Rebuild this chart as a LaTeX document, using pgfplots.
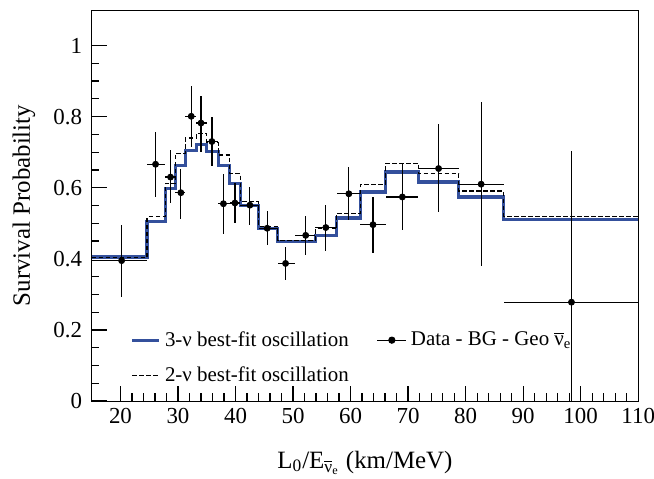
\documentclass[border=0pt]{standalone}
\usepackage{fontspec}
\setmainfont{Liberation Serif}
\usepackage{pgfplots}
\usepackage{pgfplotstable}
\pgfplotsset{compat=1.18}
\definecolor{fitblue}{RGB}{52,80,156}

% legend samples
\pgfplotsset{
  short line legend/.style={legend image code/.code={\draw[##1] (0bp,0bp) -- (13.5bp,0bp);}},
  dot line legend/.style={legend image code/.code={\draw[##1] (0bp,0bp) -- (14.5bp,0bp); \fill (7.25bp,0bp) circle (1.5bp);}},
}

% Data - BG - Geo antineutrinos: bin centre, survival probability, bin half-widths, errors
\pgfplotstableread{
x     y      exm   exp   eym    eyp
20.2  0.395  5.2   4.4   0.102  0.101
26.1  0.666  1.5   1.7   0.092  0.092
28.7  0.630  0.9   0.8   0.074  0.075
30.5  0.586  1.0   0.8   0.073  0.068
32.3  0.801  1.0   0.9   0.087  0.084
34.0  0.782  0.8   1.0   0.082  0.075
35.9  0.730  0.9   1.1   0.069  0.069
37.9  0.555  0.9   1.1   0.084  0.085
39.9  0.557  0.9   0.9   0.056  0.056
42.5  0.551  1.7   1.5   0.056  0.051
45.5  0.486  1.5   1.8   0.048  0.049
48.7  0.387  1.4   1.6   0.047  0.046
52.2  0.466  1.9   1.7   0.056  0.054
55.7  0.488  1.8   1.9   0.066  0.063
59.7  0.583  2.1   2.0   0.075  0.075
63.9  0.496  2.2   2.2   0.081  0.078
69.0  0.574  2.9   2.8   0.094  0.094
75.3  0.654  3.5   3.5   0.122  0.124
82.7  0.610  3.9   3.9   0.231  0.231
98.4  0.278  11.8  11.6  0.425  0.425
}\datatable

% 3-flavour best fit (step histogram, value holds to the next edge)
\pgfplotstableread{
x     p
15.0  0.405
24.6  0.505
27.8  0.598
29.5  0.663
31.3  0.705
33.2  0.721
35.0  0.703
37.0  0.663
39.0  0.612
40.8  0.551
44.0  0.485
47.3  0.448
50.3  0.448
53.9  0.466
57.6  0.515
61.7  0.588
66.1  0.644
71.8  0.616
78.8  0.574
86.6  0.511
110.0 0.511
}\threenu

% 2-flavour best fit
\pgfplotstableread{
x     p
15.0  0.403
24.6  0.518
27.8  0.612
29.5  0.697
31.3  0.740
33.2  0.753
35.0  0.728
37.0  0.692
39.0  0.641
40.8  0.562
44.0  0.492
47.3  0.452
50.3  0.452
53.9  0.485
57.6  0.528
61.7  0.610
66.1  0.669
71.8  0.639
78.8  0.591
86.6  0.520
110.0 0.520
}\twonu

\begin{document}
\begin{tikzpicture}
\begin{axis}[
  name=ax,
  scale only axis,
  width=273.25bp, height=195.5bp,
  xmin=15, xmax=110, ymin=0, ymax=1.1,
  xtick={20,30,40,50,60,70,80,90,100,110},
  ytick={0,0.2,0.4,0.6,0.8,1},
  minor x tick num=4, minor y tick num=3,
  tick align=inside, tick pos=left,
  major tick length=7.5bp, minor tick length=3.8bp,
  xtick style={black, line width=0.6bp},
  ytick style={black, line width=0.6bp},
  tick label style={font=\fontsize{11.5}{13}\selectfont},
  /pgf/number format/assume math mode=true,
  yticklabel style={xshift=-1.3bp},
  xlabel={L\textsubscript{0}/E\textsubscript{$\overline{\mbox{ν}}$\textsubscript{e}} (km/MeV)},
  xlabel style={font=\fontsize{12.5}{15}\selectfont, at={(axis description cs:0.5,-0.172)}, anchor=base},
  ylabel={Survival Probability},
  ylabel style={font=\fontsize{12.5}{15}\selectfont, at={(axis description cs:-0.124,0.5)}, anchor=center},
  legend columns=2,
  legend style={draw=none, fill=none, inner sep=0pt, outer sep=0pt,
    at={(axis cs:21.8,0.121)}, anchor=west,
    font=\fontsize{10.5}{12}\selectfont, row sep=5bp,
    /tikz/column 2/.style={column sep=12bp}},
  legend cell align=left,
]
\addplot[fitblue, line width=1.6bp, const plot, forget plot] table[x=x, y=p] {\threenu};
\addplot[black, line width=0.6bp, dash pattern=on 2.2bp off 1.3bp, const plot, forget plot] table[x=x, y=p] {\twonu};
\addplot[black, only marks, mark=*, mark size=1.5bp, forget plot,
  error bars/.cd, x dir=both, x explicit, y dir=both, y explicit,
  error bar style={line width=0.6bp, black}, error mark=none]
  table[x=x, y=y, x error minus=exm, x error plus=exp, y error minus=eym, y error plus=eyp] {\datatable};

\addlegendimage{fitblue, line width=1.6bp, short line legend}
\addlegendentry{3-ν best-fit oscillation}
\addlegendimage{black, line width=0.6bp, dot line legend}
\addlegendentry{Data - BG - Geo $\overline{\mbox{ν}}$\textsubscript{e}}
\addlegendimage{black, line width=0.6bp, dash pattern=on 2.2bp off 1.3bp, short line legend}
\addlegendentry{2-ν best-fit oscillation}
\end{axis}
\pgfresetboundingbox
\path ([xshift=-45.85bp,yshift=-38.5bp]ax.south west) rectangle ([xshift=7.9bp,yshift=5bp]ax.north east);
\end{tikzpicture}
\end{document}
